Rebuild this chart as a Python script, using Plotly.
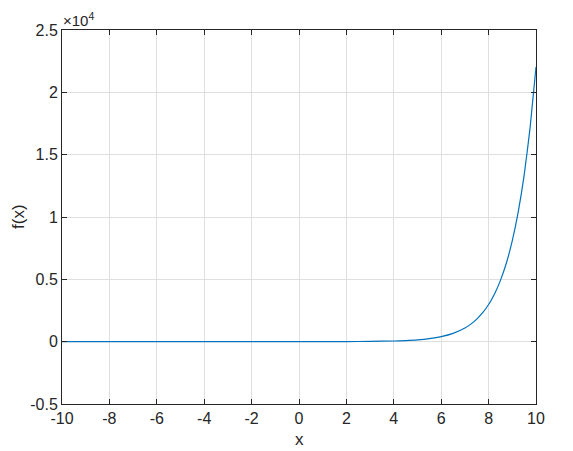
import plotly.graph_objects as go

# Values
x_vals = [-10, -9, -8, -7, -6, -5, -4, -3, -2, -1, 0, 1, 2, 3, 4, 4.5, 5, 5.5, 6, 6.5, 7, 7.25, 7.5, 7.75, 8, 8.25,
          8.5, 8.75, 9, 9.25, 9.5, 9.75, 10]
y_vals = [0, 0, 0, 0, 0, 0, 0, 0, 0, 0, 1, 3, 7, 20, 55, 90, 148, 245, 403, 665, 1097, 1408, 1808, 2322, 2981, 3827,
          4915, 6310, 8103, 10405, 13360, 17154, 22026]

x_ticks = [-10, -8, -6, -4, -2, 0, 2, 4, 6, 8, 10]
x_tick_labels = ["-10", "-8", "-6", "-4", "-2", "0", "2", "4", "6", "8", "10"]
y_ticks = [-5000, 0, 5000, 10000, 15000, 20000, 25000]
y_tick_labels = ["-0.5", "0", "0.5", "1", "1.5", "2", "2.5"]

axis_color = "#262626"
grid_color = "#dfdfdf"
font_family = "Liberation Sans, Arial, sans-serif"

fig = go.Figure()
fig.add_trace(go.Scatter(x=x_vals, y=y_vals, mode="lines",
                         line=dict(color="#0072BD", width=1.2, shape="spline", smoothing=0.5),
                         showlegend=False, hoverinfo="skip"))

common = dict(showline=True, linecolor=axis_color, linewidth=1, mirror="ticks",
              ticks="inside", ticklen=5, tickcolor=axis_color, tickwidth=1,
              showgrid=True, gridcolor=grid_color, gridwidth=1, zeroline=False, automargin=False,
              tickfont=dict(family=font_family, size=16, color=axis_color))

fig.update_xaxes(range=[-10, 10], tickvals=x_ticks, ticktext=x_tick_labels, **common)
fig.update_yaxes(range=[-5000, 25000], tickvals=y_ticks, ticktext=y_tick_labels, **common)

# axis titles
fig.add_annotation(text="x", xref="paper", yref="paper", x=0.5, y=0, xanchor="center", yanchor="middle",
                   yshift=-35, showarrow=False, font=dict(family=font_family, size=17, color=axis_color))
fig.add_annotation(text="f(x)", xref="paper", yref="paper", x=0, y=0.5, xanchor="center", yanchor="middle",
                   xshift=-44, textangle=-90, showarrow=False,
                   font=dict(family=font_family, size=17, color=axis_color))
# exponent label
fig.add_annotation(text="×10<sup>4</sup>", xref="paper", yref="paper", x=0.0, y=1.0,
                   xanchor="left", yanchor="bottom", showarrow=False, yshift=-1, xshift=-1,
                   font=dict(family=font_family, size=15, color=axis_color))

fig.update_layout(width=565, height=443, margin=dict(l=54, r=37, t=22, b=47),
                  paper_bgcolor="white", plot_bgcolor="white")

fig.write_html("out.html")
